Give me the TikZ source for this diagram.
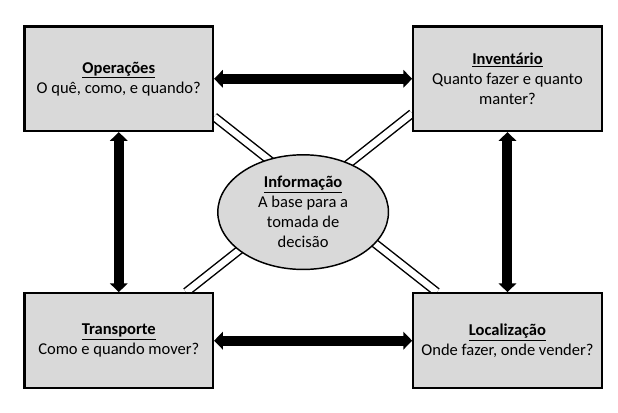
\documentclass[tikz,border=0pt]{standalone}
\usepackage{fontspec}
\setmainfont{Carlito}
\usetikzlibrary{positioning,calc,arrows.meta,backgrounds,shapes.geometric}
\definecolor{areagray}{HTML}{D9D9D9}
\tikzset{
    area/.style={draw, line width=1.6pt, fill=areagray, minimum width=141.4pt, minimum height=78.4pt,
        inner sep=0pt, align=center, font=\fontsize{12.4pt}{15pt}\selectfont},
    hub/.style={ellipse, draw, line width=1.1pt, fill=areagray, minimum width=128pt, minimum height=86pt,
        inner sep=0pt, align=center, font=\fontsize{12.4pt}{15pt}\selectfont},
    flow/.style={{Triangle[width=13pt,length=6.5pt]}-{Triangle[width=13pt,length=6.5pt]}, line width=7.5pt},
    link/.style={double, double distance=4.8pt, line width=1.1pt}
}
\newcommand{\heading}[1]{\underline{\textbf{#1}}}
\begin{document}
\begin{tikzpicture}
                \node[area] (ops) {\heading{Operações}\\O quê, como, e quando?};
                \node[area, right=148.5pt of ops] (inv) {\heading{Inventário}\\Quanto fazer e quanto\\manter?};
                \node[area, minimum height=71.2pt, below=120pt of ops] (tra) {\heading{Transporte}\\Como e quando mover?};
                \node[area, minimum height=71.2pt, right=148.5pt of tra] (loc) {\heading{Localização}\\Onde fazer, onde vender?};
                \node[hub, xshift=-7.5pt] (info) at ($(ops.south east)!0.5!(loc.north west)$)
                    {\heading{Informação}\\A base para a\\tomada de\\decisão};

                \coordinate (opsout) at ($(ops.south east)+(0,11.5pt)$);
                \coordinate (locin) at ($(loc.north west)+(18.5pt,0)$);
                \coordinate (invout) at ($(inv.south west)+(0,14pt)$);
                \coordinate (train) at ($(tra.north east)+(-21pt,0)$);

                \begin{scope}[on background layer]
                    \draw[link] (opsout) -- (locin);
                    \draw[link] (invout) -- (train);
                \end{scope}

                \draw[flow] (ops) -- (inv);
                \draw[flow] (tra) -- (loc);
                \draw[flow] (ops) -- (tra);
                \draw[flow] (inv) -- (loc);

                \useasboundingbox ($(ops.north west)+(-17.6pt,19.1pt)$) rectangle ++(463.5pt,-309.75pt);
\end{tikzpicture}
\end{document}
